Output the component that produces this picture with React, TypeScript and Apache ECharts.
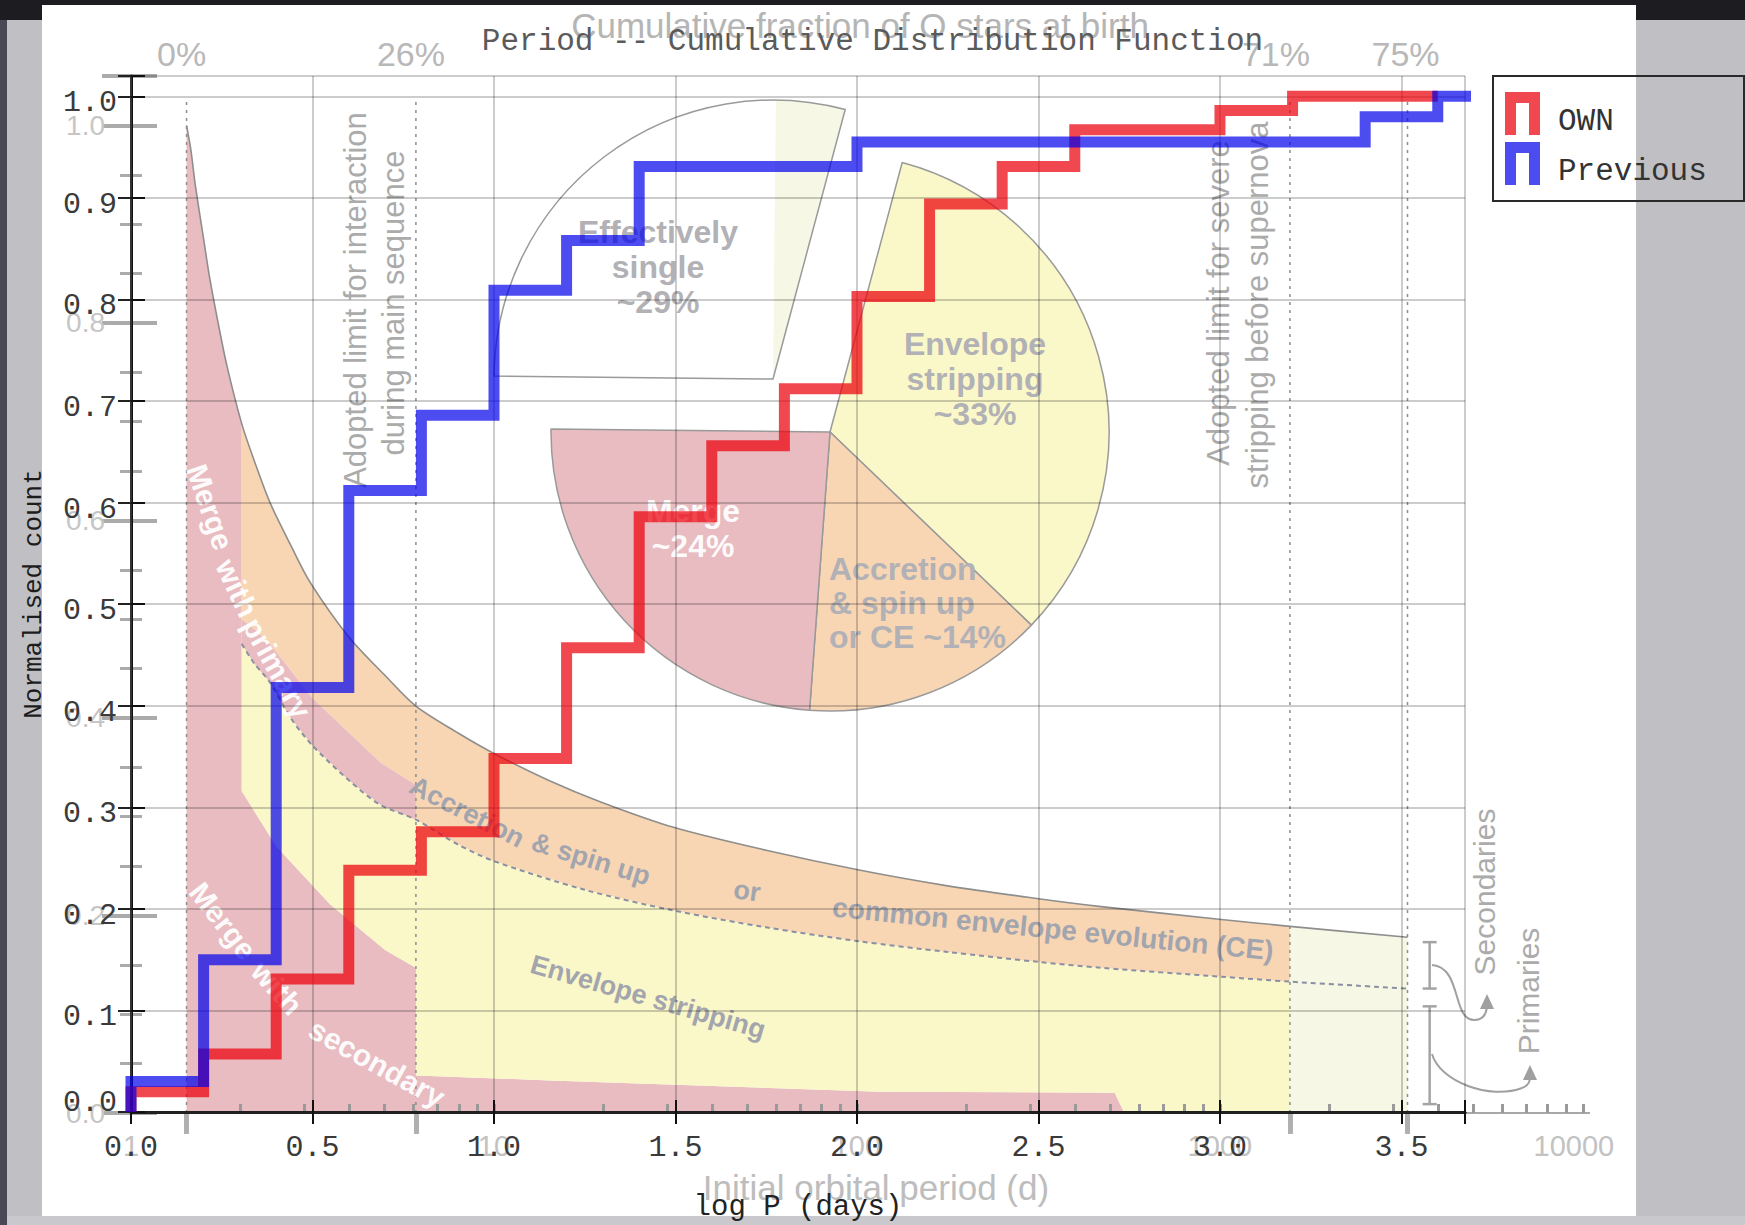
import React, { useEffect, useRef } from "react";
import * as echarts from "echarts";

// ---------------- main step data (log P in days, normalised cumulative count) ----------------
const ownLogP = [0, 0, 0.2, 0.4, 0.6, 0.8, 1.0, 1.2, 1.4, 1.6, 1.8, 2.0, 2.2, 2.4, 2.6, 2.8, 3.0, 3.2, 3.6];
const ownCount = [0, 0.02, 0.057, 0.131, 0.238, 0.276, 0.348, 0.457, 0.586, 0.656, 0.712, 0.803, 0.894, 0.931, 0.967, 0.967, 0.986, 1.0, 1.0];
const prevLogP = [0, 0, 0.2, 0.4, 0.6, 0.8, 1.0, 1.2, 1.4, 1.6, 1.8, 2.0, 2.2, 2.4, 2.6, 2.8, 3.0, 3.2, 3.4, 3.6, 3.7];
const prevCount = [0, 0.03, 0.15, 0.418, 0.612, 0.686, 0.809, 0.858, 0.931, 0.931, 0.931, 0.955, 0.955, 0.955, 0.955, 0.955, 0.955, 0.955, 0.98, 1.0, 1.0];

// ---------------- background figure (log10 of initial period, intrinsic frequency) ----------------
const pctLogP = [0.153, 0.785, 3.193, 3.517];
const pctLabels = ["0%", "26%", "71%", "75%"];
const periodDecades = [0, 1, 2, 3, 4];
const periodLabels = ["1", "10", "100", "1000", "10000"];

const envTopL = [0.153, 0.165, 0.177, 0.2, 0.217, 0.24, 0.264, 0.305, 0.34, 0.383, 0.44, 0.494, 0.6, 0.7, 0.785, 0.9, 1.0, 1.15, 1.294, 1.497, 1.75, 2.006, 2.25, 2.5, 2.673, 3.004, 3.193, 3.517];
const envTopV = [1.0, 0.975, 0.94, 0.885, 0.845, 0.8, 0.757, 0.698, 0.66, 0.618, 0.575, 0.537, 0.482, 0.443, 0.412, 0.385, 0.364, 0.337, 0.315, 0.289, 0.266, 0.246, 0.23, 0.217, 0.209, 0.196, 0.189, 0.178];
const splitL = [0.305, 0.34, 0.383, 0.44, 0.5, 0.6, 0.687, 0.785, 0.9, 1.0, 1.25, 1.495, 1.75, 2.003, 2.25, 2.5, 2.673, 3.004, 3.193, 3.517];
const splitV = [0.475, 0.455, 0.436, 0.4, 0.372, 0.337, 0.312, 0.297, 0.272, 0.255, 0.226, 0.205, 0.188, 0.174, 0.163, 0.153, 0.147, 0.138, 0.133, 0.126];
const mergePrimTopL = [0.305, 0.34, 0.383, 0.5, 0.687, 0.785];
const mergePrimTopV = [0.5, 0.49, 0.475, 0.42, 0.355, 0.332];
const stripLowL = [0.305, 0.4, 0.549, 0.7, 0.785];
const stripLowV = [0.326, 0.27, 0.211, 0.165, 0.147];
const mergeSecTopL = [0.785, 1.154, 2.063, 2.71, 2.737];
const mergeSecTopV = [0.038, 0.033, 0.0215, 0.0205, 0];

const pieNames = ["Envelope stripping", "Accretion & spin up or CE", "Merge", "Effectively single"];
const pieShares = [33, 14, 24, 29];
const singleSplit = [25, 4];
const bracketLogP = 3.578;
const bracketRanges = [[0.126, 0.173], [0.009, 0.108]];

// ---------------- styling constants ----------------
const MONO = '"Liberation Mono", "DejaVu Sans Mono", monospace';
const SANS = '"Liberation Sans", Arial, sans-serif';
const PINK = "#e8bcc0";
const ORANGE = "#f8d6b4";
const YELLOW = "#faf8c8";
const PALE = "#f6f7e4";
const RED = "rgba(235,0,10,0.72)";
const BLUE = "rgba(0,0,235,0.70)";
const GRID = "rgba(0,0,0,0.2)";
const pctLabelShift = [5, 5, 14, 2];
const periodLabelShift = [0, 0, 0, 0, 9];

const pts = (L: number[], V: number[]) => L.map((l, i) => [l, V[i]]);
const between = (p: number[][], a: number, b: number) => p.filter((q) => q[0] >= a - 1e-9 && q[0] <= b + 1e-9);
const rev = (p: number[][]) => p.slice().reverse();

const topP = pts(envTopL, envTopV);
const splitP = pts(splitL, splitV);
const mpTopP = pts(mergePrimTopL, mergePrimTopV);
const stripLowP = pts(stripLowL, stripLowV);
const msTopP = pts(mergeSecTopL, mergeSecTopV);
const Lcol = stripLowL[0];
const L26 = pctLogP[1];
const L71 = pctLogP[2];
const L75 = pctLogP[3];

const regionPolys = [
  [[pctLogP[0], 0], ...between(topP, pctLogP[0], Lcol), ...stripLowP, ...msTopP],
  [...between(splitP, Lcol, L71), [L71, 0], ...rev(msTopP), ...rev(stripLowP)],
  [...between(topP, Lcol, L71), ...rev(between(splitP, L26, L71)), ...rev(mpTopP)],
  [...mpTopP, ...rev(between(splitP, Lcol, L26))],
  [[L71, 0], ...between(topP, L71, L75), [L75, 0]],
];
const regionFills = [PINK, YELLOW, ORANGE, PINK, PALE];

const logTicks: number[] = [];
for (let d = 0; d <= 4; d++) {
  for (let k = 1; k <= 9; k++) {
    const t = d + Math.log10(k);
    if (t <= 4.017) logTicks.push(t);
  }
}

const isMult = (v: number, step: number) => Math.abs(v / step - Math.round(v / step)) < 1e-6;

function buildOption(): any {
  const txt = (text: string, x: number, y: number, deg: number, style: any) => ({
    type: "text",
    x,
    y,
    rotation: (-deg * Math.PI) / 180,
    z: 3,
    silent: true,
    style: { text, align: "center", verticalAlign: "middle", ...style },
  });
  const bandWhite = { fill: "rgba(255,255,255,0.95)", fontFamily: SANS, fontSize: 30, fontWeight: "bold" };
  const bandGray = { fill: "#a3a5ae", fontFamily: SANS, fontSize: 27, fontWeight: "bold" };
  const pieGray = { fill: "#b1b1b6", fontFamily: SANS, fontSize: 32, fontWeight: "bold", lineHeight: 35 };
  const thinGray = { fill: "#ababab", fontFamily: SANS, fontSize: 31 };

  const pieBase = {
    type: "pie",
    radius: 279,
    startAngle: 75,
    clockwise: true,
    silent: true,
    selectedMode: false,
    z: 1,
    label: { show: false },
    labelLine: { show: false },
    emphasis: { disabled: true },
  };
  const clear = { color: "rgba(0,0,0,0)", borderWidth: 0 };
  const pieFills = [YELLOW, ORANGE, PINK];

  const pctRich: any = {};
  pctLabels.forEach((_, i) => {
    pctRich["p" + i] = { fontFamily: SANS, fontSize: 34, color: "#b8b8b8", padding: [0, 2 * pctLabelShift[i], 0, 0] };
  });
  const perRich: any = {};
  periodLabels.forEach((_, i) => {
    perRich["q" + i] = { fontFamily: SANS, fontSize: 29, color: "#c2c2c2", padding: [0, 2 * periodLabelShift[i], 0, 0] };
  });

  return {
    animation: false,
    backgroundColor: "transparent",
    title: {
      text: "Period -- Cumulative Distribution Function",
      left: "center",
      top: 26,
      padding: 0,
      textStyle: { fontFamily: MONO, fontSize: 31, fontWeight: "normal", color: "#5a5a5a" },
    },
    legend: {
      data: ["OWN", "Previous"],
      orient: "vertical",
      left: 1505,
      top: 92,
      padding: 0,
      itemWidth: 35,
      itemHeight: 43,
      itemGap: 5,
      icon: "path://M0,0L35,0L35,43L24,43L24,11L11,11L11,43L0,43Z",
      formatter: (name: string) => "{t|" + name + "}",
      textStyle: {
        fontFamily: MONO,
        fontSize: 31,
        color: "#333",
        rich: { t: { fontFamily: MONO, fontSize: 31, color: "#333", padding: [16, 0, 0, 13] } },
      },
      z: 6,
    },
    grid: [
      { left: 131, top: 76, width: 1334, height: 1036, outerBoundsMode: "none", containLabel: false },
      { left: 131, top: 76, width: 1458, height: 1037, outerBoundsMode: "none", containLabel: false },
    ],
    xAxis: [
      {
        gridIndex: 0,
        type: "value",
        position: "bottom",
        min: 0,
        max: 3.675,
        interval: 0.5,
        z: 3,
        axisLine: { show: true, lineStyle: { color: "#1a1a1a", width: 3 } },
        axisTick: { show: true, inside: true, length: 12, lineStyle: { color: "#111", width: 2 } },
        axisLabel: {
          formatter: (v: number) => (isMult(v, 0.5) ? v.toFixed(1) : ""),
          fontFamily: MONO,
          fontSize: 30,
          color: "#3a3a3a",
          margin: 21,
        },
        splitLine: { show: true, lineStyle: { color: GRID, width: 2 } },
        name: "log P (days)",
        nameLocation: "middle",
        nameGap: 81,
        nameMoveOverlap: false,
        nameTextStyle: { fontFamily: MONO, fontSize: 29, color: "#222" },
      },
      {
        gridIndex: 0,
        type: "value",
        position: "top",
        min: 0,
        max: 3.675,
        interval: 0.5,
        z: 3,
        axisLine: { show: true, lineStyle: { color: "#222", width: 2.5 } },
        axisTick: { show: true, inside: true, length: 12, lineStyle: { color: "#111", width: 2 } },
        axisLabel: { show: false },
        splitLine: { show: false },
      },
      {
        gridIndex: 1,
        type: "value",
        position: "bottom",
        min: 0,
        max: 4.017,
        z: 2,
        axisLine: { show: true, lineStyle: { color: "#a8a8a8", width: 2 } },
        axisTick: { show: true, inside: true, length: 9, customValues: logTicks, lineStyle: { color: "#9a9a9a", width: 3 } },
        axisLabel: {
          customValues: periodDecades,
          formatter: (v: number) => {
            const i = periodDecades.findIndex((d) => Math.abs(d - v) < 1e-6);
            return i >= 0 ? "{q" + i + "|" + periodLabels[i] + "}" : "";
          },
          rich: perRich,
          margin: 18,
        },
        splitLine: { show: false },
        name: "Initial orbital period (d)",
        nameLocation: "middle",
        nameGap: 57,
        nameMoveOverlap: false,
        nameTextStyle: { fontFamily: SANS, fontSize: 35, color: "#bdbdbd", padding: [0, 0, 0, 32] },
      },
      {
        gridIndex: 1,
        type: "value",
        position: "top",
        min: 0,
        max: 4.017,
        z: 2,
        axisLine: { show: true, lineStyle: { color: "#a8a8a8", width: 2 } },
        axisTick: { show: true, inside: true, length: 21, customValues: pctLogP, lineStyle: { color: "#b0b0b0", width: 5 } },
        axisLabel: {
          customValues: pctLogP,
          formatter: (v: number) => {
            const i = pctLogP.findIndex((p) => Math.abs(p - v) < 1e-6);
            return i >= 0 ? "{p" + i + "|" + pctLabels[i] + "}" : "";
          },
          rich: pctRich,
          margin: 5,
        },
        splitLine: { show: false },
        name: "Cumulative fraction of O stars at birth",
        nameLocation: "middle",
        nameGap: 33,
        nameMoveOverlap: false,
        nameTextStyle: { fontFamily: SANS, fontSize: 35, color: "#b5b5b5" },
      },
    ],
    yAxis: [
      {
        gridIndex: 0,
        type: "value",
        position: "left",
        min: 0,
        max: 1.02,
        interval: 0.1,
        z: 3,
        axisLine: { show: true, lineStyle: { color: "#111", width: 3 } },
        axisTick: { show: true, inside: true, length: 14, lineStyle: { color: "#111", width: 2 } },
        axisLabel: {
          margin: 14,
          formatter: (v: number) => {
            const k = Math.round(v * 10);
            if (!isMult(v, 0.1) || k > 10) return "";
            return k === 0 ? "{z|0.0}" : "{n|" + v.toFixed(1) + "}";
          },
          rich: {
            z: { fontFamily: MONO, fontSize: 30, color: "#3a3a3a", padding: [0, 0, 18, 0] },
            n: { fontFamily: MONO, fontSize: 30, color: "#3a3a3a", padding: [14, 0, 0, 0] },
          },
        },
        splitLine: { show: true, lineStyle: { color: GRID, width: 2 } },
        name: "Normalised count",
        nameLocation: "middle",
        nameGap: 84,
        nameMoveOverlap: false,
        nameTextStyle: { fontFamily: MONO, fontSize: 26, color: "#1c1c1c" },
      },
      {
        gridIndex: 0,
        type: "value",
        position: "right",
        min: 0,
        max: 1.02,
        interval: 0.1,
        z: 3,
        axisLine: { show: true, lineStyle: { color: "#333", width: 2 } },
        axisTick: { show: true, inside: true, length: 13, lineStyle: { color: "#222", width: 2 } },
        axisLabel: { show: false },
        splitLine: { show: false },
      },
      {
        gridIndex: 1,
        type: "value",
        position: "left",
        min: 0,
        max: 1.05,
        interval: 0.2,
        z: 2,
        axisLine: { show: false },
        axisTick: { show: true, inside: true, length: 26, lineStyle: { color: "#ababab", width: 4 } },
        minorTick: { show: true, splitNumber: 4, length: 11, lineStyle: { color: "#ababab", width: 3 } },
        axisLabel: {
          formatter: (v: number) => (isMult(v, 0.2) && v < 1.01 ? v.toFixed(1) : ""),
          fontFamily: SANS,
          fontSize: 28,
          color: "#c6c6c6",
          margin: 26,
          padding: [10, 0, 0, 0],
        },
        splitLine: { show: false },
      },
      {
        gridIndex: 1,
        type: "value",
        position: "right",
        min: 0,
        max: 1.05,
        interval: 0.2,
        z: 2,
        axisLine: { show: true, lineStyle: { color: "#ababab", width: 2 } },
        axisTick: { show: true, inside: true, length: 29, lineStyle: { color: "#ababab", width: 4 } },
        minorTick: { show: true, splitNumber: 4, length: 11, lineStyle: { color: "#ababab", width: 3 } },
        axisLabel: { show: false },
        splitLine: { show: false },
      },
    ],
    series: [
      {
        type: "custom",
        name: "regions",
        xAxisIndex: 2,
        yAxisIndex: 2,
        z: 1,
        silent: true,
        clip: false,
        data: regionPolys.map((_, i) => [1, 0.5, i]),
        renderItem: (_params: any, api: any) => {
          const i = api.value(2);
          return {
            type: "polygon",
            shape: { points: regionPolys[i].map((p) => api.coord(p)) },
            style: { fill: regionFills[i] },
          };
        },
      },
      {
        type: "custom",
        name: "curves",
        xAxisIndex: 2,
        yAxisIndex: 2,
        z: 2,
        silent: true,
        clip: false,
        data: [[1, 0.5, 0], [1, 0.5, 1]],
        renderItem: (_params: any, api: any) => {
          const i = api.value(2);
          if (i === 0) {
            return {
              type: "polyline",
              shape: { points: topP.map((p) => api.coord(p)), smooth: 0.3 },
              style: { stroke: "#8e8e8e", lineWidth: 1.6, fill: null },
            };
          }
          return {
            type: "polyline",
            shape: { points: splitP.map((p) => api.coord(p)), smooth: 0.3 },
            style: { stroke: "#8a90a2", lineWidth: 2, lineDash: [5, 4], fill: null },
          };
        },
      },
      {
        type: "custom",
        name: "guides",
        xAxisIndex: 2,
        yAxisIndex: 2,
        z: 2,
        silent: true,
        clip: false,
        data: pctLogP.map((L) => [L, 0]),
        renderItem: (_params: any, api: any) => {
          const L = api.value(0);
          const a = api.coord([L, 0]);
          const b = api.coord([L, 1.028]);
          return {
            type: "line",
            shape: { x1: a[0], y1: a[1], x2: b[0], y2: b[1] },
            style: { stroke: "#8c8c8c", lineWidth: 1.5, lineDash: [3, 5] },
          };
        },
      },
      {
        type: "custom",
        name: "brackets",
        xAxisIndex: 2,
        yAxisIndex: 2,
        z: 2,
        silent: true,
        clip: false,
        data: bracketRanges.map((r) => [bracketLogP, r[0], r[1]]),
        renderItem: (_params: any, api: any) => {
          const a = api.coord([api.value(0), api.value(1)]);
          const b = api.coord([api.value(0), api.value(2)]);
          const st = { stroke: "#a4a4a4", lineWidth: 2.5 };
          return {
            type: "group",
            children: [
              { type: "line", shape: { x1: a[0], y1: a[1], x2: b[0], y2: b[1] }, style: st },
              { type: "line", shape: { x1: a[0] - 7, y1: a[1], x2: a[0] + 7, y2: a[1] }, style: st },
              { type: "line", shape: { x1: b[0] - 7, y1: b[1], x2: b[0] + 7, y2: b[1] }, style: st },
            ],
          };
        },
      },
      {
        ...pieBase,
        name: "pie-main",
        center: [830, 432],
        data: pieShares.map((v, i) => ({
          value: v,
          name: pieNames[i],
          itemStyle: i < 3 ? { color: pieFills[i], borderColor: "#9a9a9a", borderWidth: 1.5 } : clear,
        })),
      },
      {
        ...pieBase,
        name: "pie-single-fill",
        center: [773, 379],
        data: [
          ...pieShares.slice(0, 3).map((v, i) => ({ value: v, name: pieNames[i], itemStyle: clear })),
          { value: singleSplit[0], name: "single", itemStyle: { color: "#ffffff", borderWidth: 0 } },
          { value: singleSplit[1], name: "wide", itemStyle: { color: PALE, borderWidth: 0 } },
        ],
      },
      {
        ...pieBase,
        name: "pie-single-outline",
        center: [773, 379],
        data: pieShares.map((v, i) => ({
          value: v,
          name: pieNames[i],
          itemStyle: i < 3 ? clear : { color: "rgba(0,0,0,0)", borderColor: "#9a9a9a", borderWidth: 1.5 },
        })),
      },
      {
        type: "line",
        name: "OWN",
        xAxisIndex: 0,
        yAxisIndex: 0,
        step: "end",
        z: 6,
        showSymbol: false,
        symbol: "none",
        clip: true,
        data: ownLogP.map((x, i) => [x, ownCount[i]]),
        itemStyle: { color: RED },
        lineStyle: { color: RED, width: 11, join: "miter", cap: "butt" },
      },
      {
        type: "line",
        name: "Previous",
        xAxisIndex: 0,
        yAxisIndex: 0,
        step: "end",
        z: 6,
        showSymbol: false,
        symbol: "none",
        clip: true,
        data: prevLogP.map((x, i) => [x, prevCount[i]]),
        itemStyle: { color: BLUE },
        lineStyle: { color: BLUE, width: 11, join: "miter", cap: "butt" },
      },
    ],
    graphic: [
      txt("Effectively\nsingle\n~29%", 658, 267, 0, pieGray),
      txt("Envelope\nstripping\n~33%", 975, 379, 0, pieGray),
      txt("Merge\n~24%", 693, 528, 0, { ...pieGray, fill: "rgba(255,255,255,0.95)" }),
      {
        type: "text",
        x: 829,
        y: 603,
        z: 3,
        silent: true,
        style: { text: "Accretion\n& spin up\nor CE ~14%", align: "left", verticalAlign: "middle", ...pieGray, lineHeight: 34 },
      },
      txt("Merge", 210, 507, 71, bandWhite),
      txt("with", 237, 588, 65, bandWhite),
      txt("primary", 277, 668, 61, bandWhite),
      txt("Merge", 223, 921, 52, bandWhite),
      txt("with", 277, 988, 48, bandWhite),
      txt("secondary", 377, 1063, 29, bandWhite),
      txt("Accretion", 467, 812, 27, bandGray),
      txt("& spin up", 591, 859, 17, bandGray),
      txt("or", 747, 891, 8, bandGray),
      txt("common envelope evolution (CE)", 1053, 929, 5.7, { ...bandGray, fontSize: 28 }),
      txt("Envelope stripping", 648, 997, 16, bandGray),
      txt("Adopted limit for interaction", 355, 300, -90, thinGray),
      txt("during main sequence", 393, 303, -90, thinGray),
      txt("Adopted limit for severe", 1218, 303, -90, thinGray),
      txt("stripping before supernova", 1257, 305, -90, thinGray),
      txt("Secondaries", 1484, 892, -90, { ...thinGray, fontSize: 30 }),
      txt("Primaries", 1528, 991, -90, { ...thinGray, fontSize: 30 }),
      {
        type: "bezierCurve",
        z: 3,
        silent: true,
        shape: { x1: 1432, y1: 965, cpx1: 1462, cpy1: 967, cpx2: 1452, cpy2: 1020, x2: 1474, y2: 1020 },
        style: { stroke: "#a0a0a0", lineWidth: 2, fill: null },
      },
      {
        type: "bezierCurve",
        z: 3,
        silent: true,
        shape: { x1: 1474, y1: 1020, cpx1: 1484, cpy1: 1020, cpx2: 1487, cpy2: 1013, x2: 1487, y2: 1004 },
        style: { stroke: "#a0a0a0", lineWidth: 2, fill: null },
      },
      { type: "polygon", z: 3, silent: true, shape: { points: [[1487, 994], [1480, 1009], [1494, 1009]] }, style: { fill: "#a0a0a0" } },
      {
        type: "bezierCurve",
        z: 3,
        silent: true,
        shape: { x1: 1432, y1: 1054, cpx1: 1440, cpy1: 1082, cpx2: 1490, cpy2: 1100, x2: 1522, y2: 1088 },
        style: { stroke: "#a0a0a0", lineWidth: 2, fill: null },
      },
      {
        type: "bezierCurve",
        z: 3,
        silent: true,
        shape: { x1: 1522, y1: 1088, cpx1: 1530, cpy1: 1085, cpx2: 1530, cpy2: 1080, x2: 1530, y2: 1076 },
        style: { stroke: "#a0a0a0", lineWidth: 2, fill: null },
      },
      { type: "polygon", z: 3, silent: true, shape: { points: [[1530, 1065], [1523, 1080], [1537, 1080]] }, style: { fill: "#a0a0a0" } },
      {
        type: "rect",
        z: 6,
        silent: true,
        shape: { x: 1493, y: 76, width: 251, height: 125 },
        style: { fill: null, stroke: "#2a2a2a", lineWidth: 2 },
      },
    ],
  };
}

export default function App() {
  const ref = useRef<HTMLDivElement>(null);
  useEffect(() => {
    if (!ref.current) return;
    const chart = echarts.init(ref.current, null, { renderer: "svg" });
    chart.setOption(buildOption());
    return () => chart.dispose();
  }, []);
  return (
    <div style={{ position: "absolute", left: 0, top: 0, width: 1745, height: 1225, background: "#1d1d21", overflow: "hidden" }}>
      <div style={{ position: "absolute", left: 0, top: 20, width: 7, height: 1205, background: "#4a4857" }} />
      <div style={{ position: "absolute", left: 7, top: 20, width: 1738, height: 1205, background: "#c0c0c4" }} />
      <div style={{ position: "absolute", left: 7, top: 1216, width: 1738, height: 9, background: "#c9c9cd" }} />
      <div style={{ position: "absolute", left: 42, top: 5, width: 1594, height: 1211, background: "#ffffff" }} />
      <div ref={ref} style={{ position: "absolute", left: 0, top: 0, width: 1745, height: 1225 }} />
    </div>
  );
}
